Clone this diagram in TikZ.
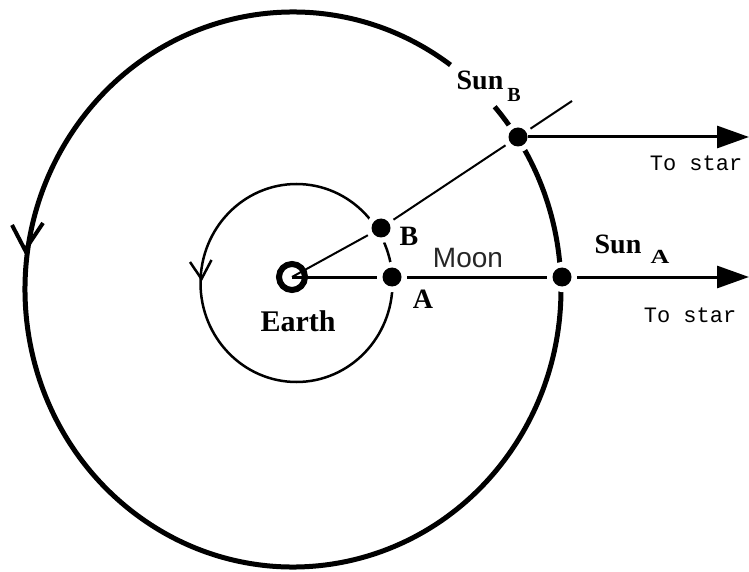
\documentclass[tikz,border=0pt]{standalone}
\usepackage{fontspec}
\usetikzlibrary{arrows.meta}
\newfontfamily\mylblfont{Liberation Serif}
\newfontfamily\mystarfont{Liberation Mono}
\newfontfamily\mymoonfont{Liberation Sans}
\begin{document}
\begin{tikzpicture}[x=1pt,y=1pt,
  dotnode/.style={circle, fill=black, minimum size=19pt, inner sep=0pt, outer sep=5.5pt,
                  preaction={draw=white, line width=11pt}},
  earthring/.style={circle, draw=black, line width=6pt, minimum size=26pt, inner sep=0pt, outer sep=0pt},
  bigorbit/.style={line width=5pt},
  smallorbit/.style={line width=2.5pt},
  thinline/.style={line width=2pt},
  midline/.style={line width=3pt},
  starline/.style={line width=3pt, -{Triangle[length=32pt,width=22pt]}},
  lbl/.style={font=\mylblfont\bfseries\fontsize{28}{28}\selectfont, inner sep=0pt},
  sublbl/.style={font=\mylblfont\bfseries\fontsize{20}{20}\selectfont, inner sep=0pt},
  starlbl/.style={font=\mystarfont\fontsize{22}{22}\selectfont, inner sep=0pt},
  moonlbl/.style={font=\mymoonfont\fontsize{28}{28}\selectfont, inner sep=0pt, text=black!85},
  vtip/.style={line join=miter, line cap=butt}
]
\useasboundingbox (0,0) rectangle (749,571);
\fill[white] (0,0) rectangle (749,571);

% orbits
\coordinate (O) at (293,281.5);
\coordinate (M) at (296.5,288);
\draw[bigorbit] (O) ++(54:268pt and 277.5pt)
  arc[start angle=54, end angle=401.2, x radius=268pt, y radius=277.5pt];
\draw[smallorbit] (M) ellipse[x radius=96pt, y radius=99pt];

% direction marks on the orbits
\coordinate (bigL) at (12,346);
\coordinate (bigT) at (25,321);
\coordinate (bigR) at (43,348);
\draw[line width=4pt, vtip] (bigL) -- (bigT) -- (bigR);
\coordinate (smL) at (190,309);
\coordinate (smT) at (201.5,292);
\coordinate (smR) at (211.5,311);
\draw[line width=2.5pt, vtip] (smL) -- (smT) -- (smR);

% bodies
\node[earthring] (E) at (292,294) {};
\node[dotnode] (A) at (392,294) {};
\node[dotnode] (B) at (381,343) {};
\node[dotnode] (SA) at (562,294) {};
\node[dotnode] (SB) at (518,434) {};
\coordinate (ext) at (572,470);
\coordinate (starA) at (749,294);
\coordinate (starB) at (749,434);

% sight lines
\draw[thinline] (E.center) -- (B);
\draw[thinline] (B) -- (SB);
\draw[thinline] (SB) -- (ext);
\draw[midline] (E.center) -- (A);
\draw[midline] (A) -- (SA);
\draw[starline] (SA) -- (starA);
\draw[starline, shorten <=-5pt] (SB) -- (starB);

% labels
\node[lbl] (sunB) at (480,491) {Sun};
\node[sublbl] (sunBsub) at (514,476) {B};
\node[lbl] (labB) at (409,335) {B};
\node[moonlbl] (moon) at (468,313) {Moon};
\node[lbl] (sunA) at (618,327) {Sun};
\node[sublbl, xscale=1.3] (sunAsub) at (660,314) {A};
\node[lbl] (labA) at (423,272) {A};
\node[lbl, font=\mylblfont\bfseries\fontsize{30}{30}\selectfont] (earth) at (298,250) {Earth};
\node[starlbl] (toStarB) at (696,408) {To star};
\node[starlbl] (toStarA) at (690,256) {To star};
\end{tikzpicture}
\end{document}
